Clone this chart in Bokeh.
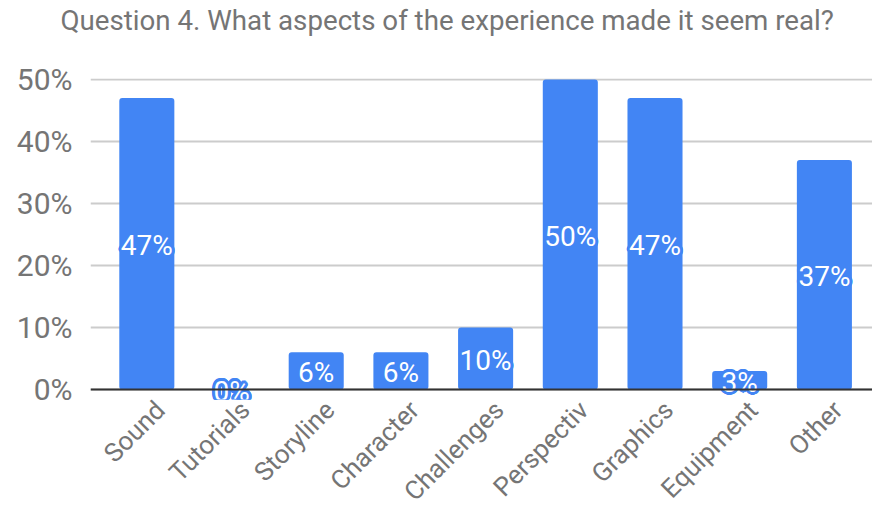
import math
from bokeh.plotting import figure
from bokeh.models import Range1d, FixedTicker, PrintfTickFormatter, Span, ColumnDataSource, Title
from bokeh.core.properties import value
from bokeh.embed import file_html
from bokeh.resources import INLINE

categories = ["Sound", "Tutorials", "Storyline", "Character", "Challenges",
              "Perspectiv", "Graphics", "Equipment", "Other"]
percents = [47, 0, 6, 6, 10, 50, 47, 3, 37]
y_ticks = [0, 10, 20, 30, 40, 50]
title_text = "Question 4. What aspects of the experience made it seem real?"

BLUE = "#4285F4"
GRAY = "#757575"
FONT = "Roboto"

xs = list(range(len(categories)))
src = ColumnDataSource(dict(
    x=xs,
    top=percents,
    mid=[v / 2 for v in percents],
    lab=[f"{v}%" for v in percents],
))

p = figure(width=872, height=520, output_backend="svg", toolbar_location=None,
           x_range=Range1d(-0.665, 8.568), y_range=Range1d(-1.61, 50.16),
           min_border_left=90, min_border_right=0, min_border_top=78,
           min_border_bottom=120)
p.outline_line_color = None
p.background_fill_color = "white"
p.border_fill_color = "white"

# empty spacer panel between the frame and the title
p.add_layout(Title(text=" ", text_font_size="1px", standoff=39), "above")

p.title.text = title_text
p.title.text_font = FONT
p.title.text_font_size = "27.7px"
p.title.text_font_style = "normal"
p.title.text_color = GRAY
p.title.align = "left"
p.title.vertical_align = "bottom"
p.title.offset = -30
p.title.standoff = 0

p.vbar(x="x", top="top", bottom=0, width=0.65, source=src, fill_color=BLUE,
       line_color=None, border_radius=3)

p.add_layout(Span(location=0, dimension="width", line_color="#333333", line_width=2))

# blue halo behind the white value labels
R = 3
for k in range(16):
    a = 2 * math.pi * k / 16
    p.text(x="x", y="mid", text="lab", source=src, text_align="center",
           text_baseline="middle", text_font=value(FONT), text_font_size="28px",
           text_color=BLUE, x_offset=R * math.cos(a), y_offset=2 + R * math.sin(a))
p.text(x="x", y="mid", text="lab", source=src, text_align="center",
       text_baseline="middle", text_font=value(FONT), text_font_size="28px",
       text_color="white", y_offset=2)

p.xgrid.visible = False
p.ygrid.ticker = FixedTicker(ticks=y_ticks)
p.ygrid.grid_line_color = "#cccccc"
p.ygrid.grid_line_width = 2

p.yaxis.ticker = FixedTicker(ticks=y_ticks)
p.yaxis.formatter = PrintfTickFormatter(format="%d%%")
p.yaxis.axis_line_color = None
p.yaxis.major_tick_line_color = None
p.yaxis.minor_tick_line_color = None
p.yaxis.major_label_text_font = FONT
p.yaxis.major_label_text_font_size = "30px"
p.yaxis.major_label_text_color = GRAY
p.yaxis.major_label_standoff = 12

# category labels sit slightly right of the bar centres, as in the original
label_shift = 0.16
tick_pos = [i + label_shift for i in xs]
p.xaxis.ticker = FixedTicker(ticks=tick_pos)
p.xaxis.major_label_overrides = {t: c for t, c in zip(tick_pos, categories)}
p.xaxis.axis_line_color = None
p.xaxis.major_tick_line_color = None
p.xaxis.minor_tick_line_color = None
p.xaxis.major_label_orientation = math.pi / 4
p.xaxis.major_label_text_font = FONT
p.xaxis.major_label_text_font_size = "26px"
p.xaxis.major_label_text_color = GRAY
p.xaxis.major_label_standoff = 0

open("out.html", "w").write(file_html(p, INLINE))
